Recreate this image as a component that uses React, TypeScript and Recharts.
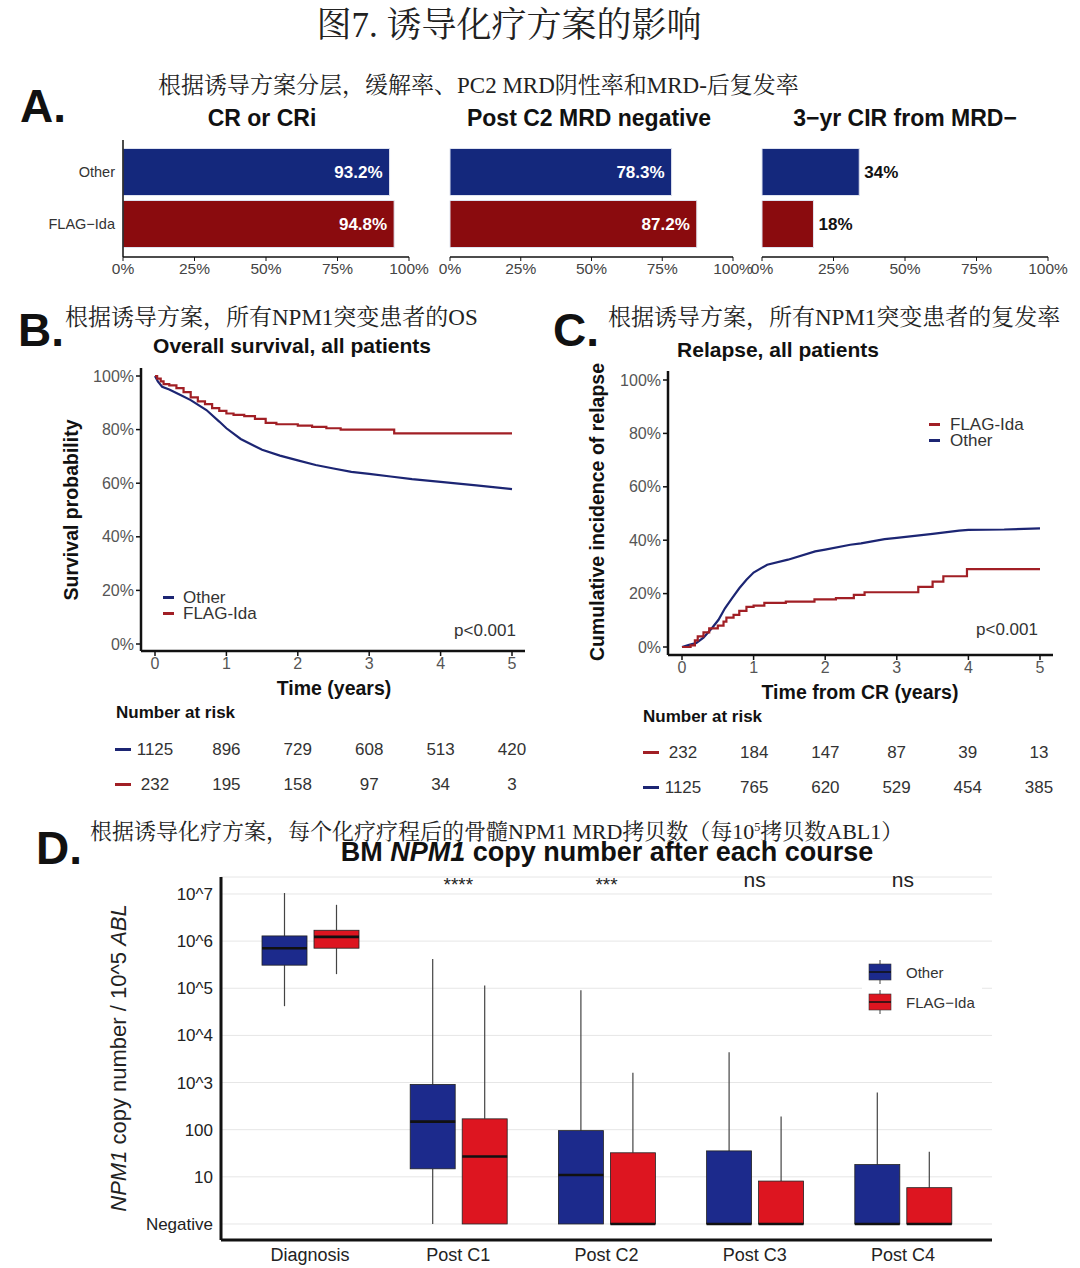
import React from 'react'
import {
  BarChart, Bar, Cell, LabelList, XAxis, YAxis, LineChart, Line, ComposedChart, CartesianGrid,
} from 'recharts'

// ---- Panel A: response rates by induction regimen
const groups = ['Other', 'FLAG−Ida']
const crRate = [93.2, 94.8]
const mrdNegRate = [78.3, 87.2]
const cirRate = [34, 18]
const pctTicks = [0, 25, 50, 75, 100]

// ---- Panel B: overall survival (years, %)
const osOtherT = [0, 0.04, 0.1, 0.2, 0.35, 0.5, 0.72, 0.9, 1.0, 1.2, 1.5, 1.75, 2.0, 2.25, 2.5, 2.75, 3.0, 3.3, 3.6, 4.0, 4.5, 5.0]
const osOtherS = [100, 98, 96, 95, 93, 91, 87.3, 83, 80.5, 76.5, 72.5, 70.3, 68.5, 66.8, 65.5, 64.2, 63.5, 62.5, 61.5, 60.5, 59.2, 57.8]
const osFlagT = [0, 0.03, 0.08, 0.12, 0.2, 0.3, 0.4, 0.5, 0.6, 0.7, 0.8, 0.9, 1.0, 1.1, 1.25, 1.4, 1.55, 1.7, 2.0, 2.2, 2.4, 2.6, 3.35, 5.0]
const osFlagS = [100, 99, 98, 97, 96.5, 95.5, 94, 92, 90.5, 89.5, 88, 87, 86, 85.5, 85, 84, 82.5, 82, 81.5, 81, 80.5, 80, 78.6, 78.6]

// ---- Panel C: cumulative incidence of relapse (years from CR, %)
const cirOtherT = [0, 0.1, 0.2, 0.3, 0.42, 0.51, 0.6, 0.7, 0.8, 0.9, 1.0, 1.19, 1.48, 1.86, 2.0, 2.35, 2.5, 2.83, 3.0, 3.5, 3.87, 4.0, 4.5, 5.0]
const cirOtherV = [0, 0.8, 1.5, 3.5, 7.1, 10.2, 14.5, 18.3, 22, 25.2, 27.9, 30.8, 32.7, 35.8, 36.5, 38.3, 38.8, 40.4, 40.9, 42.4, 43.6, 43.9, 44.0, 44.4]
const cirFlagT = [0, 0.12, 0.18, 0.22, 0.3, 0.38, 0.5, 0.58, 0.62, 0.72, 0.8, 0.9, 1.0, 1.15, 1.45, 1.85, 2.15, 2.4, 2.55, 3.3, 3.5, 3.65, 3.98, 5.0]
const cirFlagV = [0, 0.6, 2.5, 4, 5.5, 7, 8, 9.5, 11, 12, 13.5, 15, 15.5, 16.5, 17, 17.8, 18.3, 19.5, 20.5, 22.5, 24.5, 26.5, 29.2, 29.2]

const yearTicks = [0, 1, 2, 3, 4, 5]
const osRiskOther = [1125, 896, 729, 608, 513, 420]
const osRiskFlag = [232, 195, 158, 97, 34, 3]
const cirRiskFlag = [232, 184, 147, 87, 39, 13]
const cirRiskOther = [1125, 765, 620, 529, 454, 385]

// ---- Panel D: BM NPM1 copies (log10 units, 0 = Negative)
const courses = ['Diagnosis', 'Post C1', 'Post C2', 'Post C3', 'Post C4']
const otherLo = [4.62, 0, 0, 0, 0]
const otherQ1 = [5.49, 1.17, 0, 0, 0]
const otherMed = [5.85, 2.17, 1.04, 0, 0]
const otherQ3 = [6.11, 2.96, 1.98, 1.55, 1.26]
const otherHi = [7.02, 5.62, 4.96, 3.64, 2.79]
const flagLo = [5.3, 0, 0, 0, 0]
const flagQ1 = [5.85, 0, 0, 0, 0]
const flagMed = [6.09, 1.43, 0, 0, 0]
const flagQ3 = [6.23, 2.23, 1.51, 0.91, 0.77]
const flagHi = [6.77, 5.06, 3.21, 2.28, 1.53]
const sigLabels = ['', '****', '***', 'ns', 'ns']
const logTicks = [0, 1, 2, 3, 4, 5, 6, 7]
const logLabels = ['Negative', '10', '100', '10^3', '10^4', '10^5', '10^6', '10^7']

const NAVY = '#14287c'
const DARKRED = '#8a0b0e'
const LINE_BLUE = '#1c2573'
const LINE_RED = '#a11f25'
const BOX_BLUE = '#1c2a8c'
const BOX_RED = '#dd1520'

const SANS = '"Liberation Sans", Arial, sans-serif'
const CJK = '"Liberation Serif", "Noto Serif CJK SC", "Noto Sans CJK SC", serif'

const T = ({ x, y, children, style, anchor = 'left' }: any) => {
  const tr = anchor === 'center' ? 'translate(-50%,-50%)' : anchor === 'right' ? 'translate(-100%,-50%)' : 'translateY(-50%)'
  return (
    <div style={{ position: 'absolute', left: x, top: y, transform: tr, whiteSpace: 'nowrap', lineHeight: 1, ...style }}>
      {children}
    </div>
  )
}

const Vert = ({ x, y, children, style }: any) => (
  <div style={{ position: 'absolute', left: x, top: y, transform: 'translate(-50%,-50%) rotate(-90deg)', whiteSpace: 'nowrap', lineHeight: 1, ...style }}>
    {children}
  </div>
)

function RateBars({ values, showCats, labelInside, left, width, ml, mr }: any) {
  const data = groups.map((g, i) => ({ group: g, value: values[i] }))
  return (
    <div style={{ position: 'absolute', left, top: 130 }}>
      <BarChart layout="vertical" width={width} height={155} data={data}
        margin={{ top: 10, right: mr, bottom: 0, left: ml }} barSize={47}>
        <XAxis type="number" domain={[0, 100]} ticks={pctTicks} tickFormatter={(v) => `${v}%`} height={28}
          axisLine={{ stroke: '#111', strokeWidth: 1.5 }} tickLine={{ stroke: '#111' }} tickSize={4}
          tick={{ fill: '#444', fontSize: 15.5, fontFamily: SANS }} interval={0} />
        <YAxis type="category" dataKey="group" width={showCats ? 100 : 0} padding={{ top: 5.5, bottom: 7.5 }}
          axisLine={{ stroke: '#111', strokeWidth: 1.5 }} tickLine={false}
          tick={showCats ? { fill: '#333', fontSize: 14.5, fontFamily: SANS } : false} />
        <Bar dataKey="value" isAnimationActive={false} stroke="#dfe3ef" strokeWidth={1}>
          {data.map((d, i) => <Cell key={d.group} fill={i === 0 ? NAVY : DARKRED} />)}
          <LabelList dataKey="value" position={labelInside ? 'insideRight' : 'right'} offset={labelInside ? 7 : 5}
            formatter={(v: any) => `${v}%`} fill={labelInside ? '#fff' : '#111'}
            style={{ fontWeight: 'bold', fontSize: 17, fontFamily: SANS }} />
        </Bar>
      </BarChart>
    </div>
  )
}

const series = (ts: number[], vs: number[]) => ts.map((t, i) => ({ t, v: vs[i] }))

function CurveChart({ left, ml, mr, mt, mb, padTop, padBottom, a, b }: any) {
  return (
    <div style={{ position: 'absolute', left, top: 355 }}>
      <LineChart width={540} height={330} margin={{ top: mt, right: mr, bottom: mb, left: ml }}>
        <XAxis type="number" dataKey="t" domain={[0, 5]} ticks={yearTicks} padding={{ left: 14, right: 13 }} height={25}
          axisLine={{ stroke: '#111', strokeWidth: 2.5 }} tickLine={{ stroke: '#111', strokeWidth: 1.5 }} tickSize={5}
          tick={{ fill: '#555', fontSize: 16, fontFamily: SANS }} allowDuplicatedCategory={false} />
        <YAxis type="number" domain={[0, 100]} ticks={[0, 20, 40, 60, 80, 100]} tickFormatter={(v) => `${v}%`} width={50}
          padding={{ top: padTop, bottom: padBottom }}
          axisLine={{ stroke: '#111', strokeWidth: 2.5 }} tickLine={{ stroke: '#111', strokeWidth: 1.5 }} tickSize={5}
          tick={{ fill: '#555', fontSize: 16, fontFamily: SANS }} />
        <Line data={a.data} dataKey="v" type={a.type} stroke={a.color} strokeWidth={2.2} dot={false} isAnimationActive={false} />
        <Line data={b.data} dataKey="v" type={b.type} stroke={b.color} strokeWidth={2.2} dot={false} isAnimationActive={false} />
      </LineChart>
    </div>
  )
}

function RiskTable({ x0, step, y, rows }: any) {
  return (
    <>
      {rows.map((r: any, ri: number) => (
        <React.Fragment key={ri}>
          <div style={{ position: 'absolute', left: x0 - 40, top: y + ri * 35 - 1.5, width: 16, height: 3, background: r.color }} />
          {r.values.map((v: number, i: number) => (
            <T key={i} x={x0 + i * step} y={y + ri * 35} anchor="center" style={{ fontSize: 17, color: '#333' }}>{v}</T>
          ))}
        </React.Fragment>
      ))}
    </>
  )
}

function BoxShape(props: any) {
  const { x, y, width, height, payload, which } = props
  const rng = payload[which]
  const stats = payload[which + 'Box']
  const color = which === 'other' ? BOX_BLUE : BOX_RED
  const top = Math.min(y, y + height)
  const bottom = Math.max(y, y + height)
  const py = (v: number) => bottom - ((v - rng[0]) / (rng[1] - rng[0])) * (bottom - top)
  const cx = x + width / 2
  const [q1, med, q3] = stats
  return (
    <g>
      <line x1={cx} x2={cx} y1={py(rng[1])} y2={py(q3)} stroke="#444" strokeWidth={1.2} />
      <line x1={cx} x2={cx} y1={py(q1)} y2={py(rng[0])} stroke="#444" strokeWidth={1.2} />
      <rect x={x} y={py(q3)} width={width} height={py(q1) - py(q3)} fill={color} stroke="#222" strokeWidth={0.8} />
      <line x1={x} x2={x + width} y1={py(med)} y2={py(med)} stroke="#111" strokeWidth={2.6} />
    </g>
  )
}

const SigTick = (props: any) => {
  const { x, y, payload } = props
  const idx = courses.indexOf(payload.value)
  const s = sigLabels[idx] || ''
  const ns = s === 'ns'
  return (
    <text x={x} y={y + (ns ? 18 : 22)} textAnchor="middle" fill="#222" fontSize={ns ? 21 : 19} fontFamily={SANS}>{s}</text>
  )
}

const LegendBox = ({ color }: any) => (
  <svg width={26} height={26} style={{ display: 'block' }}>
    <line x1={13} x2={13} y1={1} y2={25} stroke="#444" strokeWidth={1} />
    <rect x={2} y={5} width={22} height={16} fill={color} stroke="#333" strokeWidth={0.6} />
    <line x1={2} x2={24} y1={13} y2={13} stroke="#111" strokeWidth={1.5} />
  </svg>
)

export default function App() {
  const boxRows = courses.map((course, i) => ({
    course,
    other: [otherLo[i], otherHi[i]],
    flag: [flagLo[i], flagHi[i]],
    otherBox: [otherQ1[i], otherMed[i], otherQ3[i]],
    flagBox: [flagQ1[i], flagMed[i], flagQ3[i]],
  }))

  const bold = { fontWeight: 'bold', fontFamily: SANS, color: '#111' }

  return (
    <div style={{ position: 'absolute', left: 0, top: 0, width: 1080, height: 1268, background: '#fff', fontFamily: SANS, overflow: 'hidden' }}>
      {/* main title */}
      <T x={509} y={25} anchor="center" style={{ fontFamily: CJK, fontSize: 35, color: '#222' }}>图7. 诱导化疗方案的影响</T>

      {/* ---------- A ---------- */}
      <T x={20} y={106} style={{ ...bold, fontSize: 46 }}>A.</T>
      <T x={158} y={85} style={{ fontFamily: CJK, fontSize: 23, color: '#222' }}>根据诱导方案分层，缓解率、PC2 MRD阴性率和MRD-后复发率</T>
      <T x={262} y={118} anchor="center" style={{ ...bold, fontSize: 23 }}>CR or CRi</T>
      <T x={589} y={118} anchor="center" style={{ ...bold, fontSize: 23 }}>Post C2 MRD negative</T>
      <T x={905} y={118} anchor="center" style={{ ...bold, fontSize: 23 }}>3−yr CIR from MRD−</T>
      <RateBars values={crRate} showCats labelInside left={0} width={430} ml={23} mr={21} />
      <RateBars values={mrdNegRate} showCats={false} labelInside left={425} width={330} ml={25} mr={22} />
      <RateBars values={cirRate} showCats={false} labelInside={false} left={740} width={340} ml={22} mr={32} />

      {/* ---------- B ---------- */}
      <T x={18} y={330} style={{ ...bold, fontSize: 46 }}>B.</T>
      <T x={65} y={317} style={{ fontFamily: CJK, fontSize: 23, color: '#222' }}>根据诱导方案，所有NPM1突变患者的OS</T>
      <T x={292} y={345} anchor="center" style={{ ...bold, fontSize: 21 }}>Overall survival, all patients</T>
      <CurveChart left={0} ml={91} mr={15} mt={13} mb={9} padTop={8} padBottom={7}
        a={{ data: series(osOtherT, osOtherS), color: LINE_BLUE, type: 'linear' }}
        b={{ data: series(osFlagT, osFlagS), color: LINE_RED, type: 'stepAfter' }} />
      <Vert x={72} y={510} style={{ ...bold, fontSize: 19.5 }}>Survival probability</Vert>
      <T x={334} y={689} anchor="center" style={{ ...bold, fontSize: 19.5 }}>Time (years)</T>
      <div style={{ position: 'absolute', left: 163, top: 596, width: 11, height: 2.5, background: LINE_BLUE }} />
      <T x={183} y={597} style={{ fontSize: 17, color: '#333' }}>Other</T>
      <div style={{ position: 'absolute', left: 163, top: 612, width: 11, height: 2.5, background: LINE_RED }} />
      <T x={183} y={613} style={{ fontSize: 17, color: '#333' }}>FLAG-Ida</T>
      <T x={516} y={630} anchor="right" style={{ fontSize: 17, color: '#333' }}>p&lt;0.001</T>
      <T x={116} y={712} style={{ ...bold, fontSize: 17 }}>Number at risk</T>
      <RiskTable x0={155} step={71.4} y={749} rows={[{ color: LINE_BLUE, values: osRiskOther }, { color: LINE_RED, values: osRiskFlag }]} />

      {/* ---------- C ---------- */}
      <T x={553} y={330} style={{ ...bold, fontSize: 46 }}>C.</T>
      <T x={608} y={317} style={{ fontFamily: CJK, fontSize: 23, color: '#222' }}>根据诱导方案，所有NPM1突变患者的复发率</T>
      <T x={778} y={349} anchor="center" style={{ ...bold, fontSize: 21 }}>Relapse, all patients</T>
      <CurveChart left={540} ml={78} mr={27} mt={16} mb={5} padTop={9} padBottom={8}
        a={{ data: series(cirOtherT, cirOtherV), color: LINE_BLUE, type: 'linear' }}
        b={{ data: series(cirFlagT, cirFlagV), color: LINE_RED, type: 'stepAfter' }} />
      <Vert x={598} y={512} style={{ ...bold, fontSize: 19.5 }}>Cumulative incidence of relapse</Vert>
      <T x={860} y={693} anchor="center" style={{ ...bold, fontSize: 19.5 }}>Time from CR (years)</T>
      <div style={{ position: 'absolute', left: 929, top: 423, width: 11, height: 2.5, background: LINE_RED }} />
      <T x={950} y={424} style={{ fontSize: 17, color: '#333' }}>FLAG-Ida</T>
      <div style={{ position: 'absolute', left: 929, top: 439, width: 11, height: 2.5, background: LINE_BLUE }} />
      <T x={950} y={440} style={{ fontSize: 17, color: '#333' }}>Other</T>
      <T x={1038} y={629} anchor="right" style={{ fontSize: 17, color: '#333' }}>p&lt;0.001</T>
      <T x={643} y={716} style={{ ...bold, fontSize: 17 }}>Number at risk</T>
      <RiskTable x0={683} step={71.2} y={752} rows={[{ color: LINE_RED, values: cirRiskFlag }, { color: LINE_BLUE, values: cirRiskOther }]} />

      {/* ---------- D ---------- */}
      <div style={{ position: 'absolute', left: 0, top: 860 }}>
        <ComposedChart width={1080} height={408} data={boxRows} margin={{ top: 16, right: 88, bottom: 0, left: 141 }}
          barSize={45} barGap={7}>
          <CartesianGrid vertical={false} stroke="#e6e6e6" strokeWidth={1} />
          <XAxis dataKey="course" padding={{ left: 15, right: 15 }} height={28}
            axisLine={{ stroke: '#111', strokeWidth: 3 }} tickLine={false}
            tick={{ fill: '#222', fontSize: 18, fontFamily: SANS }} />
          <XAxis xAxisId="sig" orientation="top" dataKey="course" padding={{ left: 15, right: 15 }} height={1}
            axisLine={false} tickLine={false} tick={<SigTick />} />
          <YAxis type="number" domain={[-0.34, 7.36]} ticks={logTicks} width={80}
            tickFormatter={(v) => logLabels[logTicks.indexOf(v)]}
            axisLine={{ stroke: '#111', strokeWidth: 3 }} tickLine={false}
            tick={{ fill: '#222', fontSize: 17, fontFamily: SANS }} />
          <Bar dataKey="other" isAnimationActive={false} fill={BOX_BLUE}
            shape={(p: any) => <BoxShape {...p} which="other" />} />
          <Bar dataKey="flag" isAnimationActive={false} fill={BOX_RED}
            shape={(p: any) => <BoxShape {...p} which="flag" />} />
        </ComposedChart>
      </div>
      <T x={36} y={848} style={{ ...bold, fontSize: 46 }}>D.</T>
      <T x={607} y={852} anchor="center" style={{ ...bold, fontSize: 27 }}>BM <i>NPM1</i> copy number after each course</T>
      <T x={90} y={832} style={{ fontFamily: CJK, fontSize: 22, color: '#222' }}>
        根据诱导化疗方案，每个化疗疗程后的骨髓NPM1 MRD拷贝数（每10<sup style={{ fontSize: 12 }}>5</sup>拷贝数ABL1）
      </T>
      <Vert x={119} y={1058} style={{ fontSize: 22, color: '#222' }}><i>NPM1</i> copy number / 10^5 <i>ABL</i></Vert>
      <div style={{ position: 'absolute', left: 862, top: 955, width: 120, height: 62, background: '#fff' }}>
        <div style={{ position: 'absolute', left: 5, top: 4 }}><LegendBox color={BOX_BLUE} /></div>
        <T x={44} y={17} style={{ fontSize: 15, color: '#333' }}>Other</T>
        <div style={{ position: 'absolute', left: 5, top: 34 }}><LegendBox color={BOX_RED} /></div>
        <T x={44} y={47} style={{ fontSize: 15, color: '#333' }}>FLAG−Ida</T>
      </div>
    </div>
  )
}
